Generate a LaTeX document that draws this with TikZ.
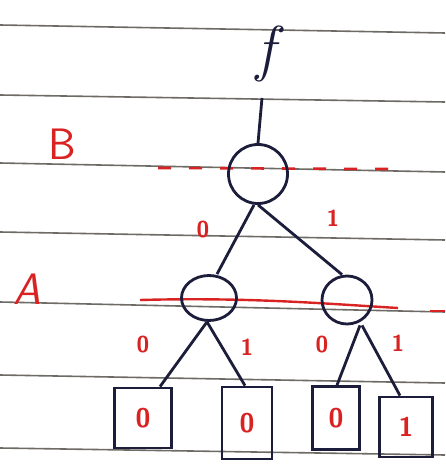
\documentclass[tikz,border=0pt]{standalone}
\usepackage{fontspec}
\usetikzlibrary{shapes.geometric,calc}
\definecolor{ink}{HTML}{1B1D3A}
\definecolor{redink}{HTML}{D92323}
\definecolor{rule}{HTML}{6E6A66}
\begin{document}
\begin{tikzpicture}[x=1pt,y=-1pt,
  ruled/.style={draw=rule,line width=1.6pt},
  conn/.style={draw=ink,line width=2.8pt},
  bddnode/.style={ellipse,draw=ink,line width=2.8pt,inner sep=0pt},
  leaf/.style={rectangle,draw=ink,line width=2.8pt,inner sep=0pt,text=redink,font=\sffamily\bfseries\fontsize{27}{27}\selectfont},
  varlabel/.style={text=redink,font=\sffamily\fontsize{44}{44}\selectfont},
  edgelabel/.style={text=redink,font=\sffamily\bfseries\fontsize{23}{23}\selectfont}]
\useasboundingbox (0,0) rectangle (445,473);
\fill[white] (0,0) rectangle (445,473);
% ruled paper lines
\draw[ruled] (0,25) -- (445,33);
\draw[ruled] (0,95) -- (445,102);
\draw[ruled] (0,163) -- (445,172);
\draw[ruled] (0,232) -- (445,240);
\draw[ruled] (0,302) -- (445,312);
\draw[ruled] (0,375) -- (445,383);
\draw[ruled] (0,448) -- (445,455);
% red level lines
\draw[redink,line width=2.6pt,dash pattern=on 13pt off 18pt] (158,168) -- (388,169);
\draw[redink,line width=2.4pt] (140,300) .. controls (250,297) and (330,304) .. (398,308);
\draw[redink,line width=2.4pt] (430,311) -- (445,311);
% labels
\node[varlabel] (lB) at (62,144) {B};
\node[varlabel] (lA) at (27,289) {\itshape A};
\node[text=ink,font=\itshape\fontsize{62}{62}\selectfont] (f) at (266,54) {f};
% nodes
\coordinate (ftop) at (262,98);
\node[bddnode,minimum width=59pt,minimum height=59pt] (root) at (258,174) {};
\node[bddnode,minimum width=55pt,minimum height=45pt] (a1) at (209,298) {};
\node[bddnode,minimum width=50pt,minimum height=48pt] (a2) at (347,300) {};
\node[leaf,minimum width=57pt,minimum height=60pt] (b1) at (143,418) {0};
\node[leaf,minimum width=50pt,minimum height=72pt] (b2) at (247,423) {0};
\node[leaf,minimum width=47pt,minimum height=63pt] (b3) at (336,418) {0};
\node[leaf,minimum width=53pt,minimum height=60pt] (b4) at (406,427) {1};
% edge labels
\node[edgelabel] (l0B) at (203,230) {0};
\node[edgelabel] (l1B) at (333,218) {1};
\node[edgelabel] (l0a) at (143,345) {0};
\node[edgelabel] (l1a) at (247,347) {1};
\node[edgelabel] (l0b) at (322,345) {0};
\node[edgelabel] (l1b) at (398,343) {1};
% connectors
\draw[conn] (ftop) -- (root.north);
\draw[conn] ([xshift=-4pt]root.south) -- ([xshift=8pt]a1.north);
\draw[conn] (root.south) -- ([xshift=-5pt]a2.north);
\draw[conn] ([xshift=-2pt]a1.south) -- ([xshift=17pt]b1.north);
\draw[conn] ([xshift=-2pt]a1.south) -- ([xshift=-2pt]b2.north);
\draw[conn] ([xshift=13pt]a2.south) -- ([xshift=1pt]b3.north);
\draw[conn] ([xshift=15pt]a2.south) -- ([xshift=-6pt]b4.north);
\end{tikzpicture}
\end{document}
